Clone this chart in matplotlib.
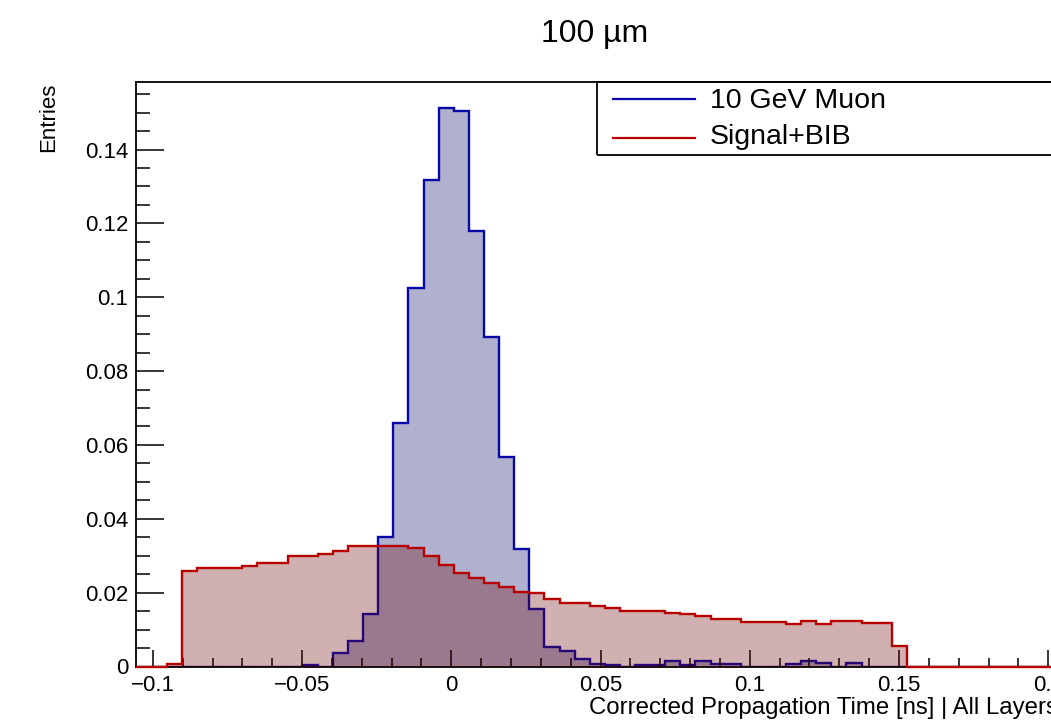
import numpy as np
import matplotlib
matplotlib.use('Agg')
import matplotlib.pyplot as plt
from matplotlib.ticker import MultipleLocator, FuncFormatter
from matplotlib.lines import Line2D
from matplotlib.patches import Rectangle

plt.rcParams['font.family'] = ['Liberation Sans', 'DejaVu Sans']

# binning
bin_start = -0.0953
bin_width = 0.00506
x_range = (-0.1058, 0.2026)
y_range = (0, 0.1583)

# bin contents, first bin starts at bin_start
muon = [0, 0, 0, 0, 0, 0, 0, 0, 0, 0.0005,
        0, 0.0037, 0.0070, 0.0142, 0.0352, 0.0659, 0.1025, 0.1318, 0.1512, 0.1504,
        0.1180, 0.0893, 0.0568, 0.0318, 0.0156, 0.0053, 0.0041, 0.0020, 0.0006, 0.0005,
        0, 0.0005, 0.0005, 0.0014, 0.0003, 0.0014, 0.0008, 0.0008, 0, 0,
        0, 0.0008, 0.0015, 0.0009, 0, 0.0009, 0, 0, 0]
bib = [0.0006, 0.0259, 0.0266, 0.0266, 0.0266, 0.0272, 0.0279, 0.0279, 0.0299, 0.0299,
       0.0306, 0.0313, 0.0326, 0.0326, 0.0326, 0.0326, 0.0320, 0.0299, 0.0276, 0.0253,
       0.0240, 0.0227, 0.0216, 0.0202, 0.0198, 0.0183, 0.0171, 0.0171, 0.0163, 0.0158,
       0.0150, 0.0150, 0.0150, 0.0145, 0.0143, 0.0137, 0.0129, 0.0129, 0.0121, 0.0121,
       0.0121, 0.0115, 0.0122, 0.0116, 0.0122, 0.0122, 0.0117, 0.0117, 0.0056]

labels = ['10 GeV Muon', 'Signal+BIB']
title = '100 \u00b5m'
xlabel = 'Corrected Propagation Time [ns] | All Layers'
ylabel = 'Entries'

blue_line = '#0808a8'
blue_fill = (0, 0, 0.4, 0.31)
red_line = '#b80000'
red_fill = (0.41, 0, 0, 0.31)

W, H = 1051, 721


def full_hist(vals):
    # pad with empty bins out to the axis range, like ROOT draws it
    edges = bin_start + bin_width * np.arange(len(vals) + 1)
    e = np.concatenate([[x_range[0]], edges, [x_range[1]]])
    v = np.concatenate([[0], vals, [0]])
    return v, e


def px(x, y):
    return x / W, 1 - y / H


def fmt(v, pos):
    s = f'{round(v, 4):g}'
    if s == '-0':
        s = '0'
    return s.replace('-', '\u2212')


fig = plt.figure(figsize=(W / 100, H / 100), dpi=100)
ax = fig.add_axes([135.5 / W, 1 - 666.5 / H, (1056 - 135.5) / W, (666.5 - 82) / H])

v, e = full_hist(muon)
ax.stairs(v, e, fill=True, color=blue_fill, zorder=1)
ax.stairs(v, e, color=blue_line, lw=1.7, zorder=1.2)

v, e = full_hist(bib)
ax.stairs(v, e, fill=True, color=red_fill, zorder=3)
ax.stairs(v, e, color=red_line, lw=1.7, zorder=3.2, clip_on=False)

ax.set_xlim(*x_range)
ax.set_ylim(*y_range)

for s in ax.spines.values():
    s.set_linewidth(1.3)

ax.xaxis.set_major_locator(MultipleLocator(0.05))
ax.xaxis.set_minor_locator(MultipleLocator(0.01))
ax.yaxis.set_major_locator(MultipleLocator(0.02))
ax.yaxis.set_minor_locator(MultipleLocator(0.005))
ax.xaxis.set_major_formatter(FuncFormatter(fmt))
ax.yaxis.set_major_formatter(FuncFormatter(fmt))

ax.tick_params(which='both', direction='in', top=False, right=False, width=1.1)
ax.tick_params(axis='x', which='major', length=12.6, labelsize=16, pad=6)
ax.tick_params(axis='x', which='minor', length=6.3)
ax.tick_params(axis='y', which='major', length=20, labelsize=16, pad=5)
ax.tick_params(axis='y', which='minor', length=10)

# titles
fig.text(*px(595, 41.7), title, ha='center', va='baseline', fontsize=23)
fig.text(*px(1058, 714), xlabel, ha='right', va='baseline', fontsize=17.3)
fig.text(*px(49, 83), ylabel, rotation=90, ha='center', va='top', fontsize=16)

# legend box, runs off the right edge like the original
x0, y0 = px(597, 155)
x1, y1 = px(1120, 82)
fig.add_artist(Rectangle((x0, y0), x1 - x0, y1 - y0, transform=fig.transFigure,
                         fill=False, ec='black', lw=1.3, clip_on=False))
for lab, col, ly, base in [(labels[0], blue_line, 99.3, 108.3),
                           (labels[1], red_line, 137.7, 144)]:
    fig.add_artist(Line2D([613 / W, 695 / W], [1 - ly / H] * 2,
                          transform=fig.transFigure, color=col, lw=1.6))
    fig.text(*px(710, base), lab, ha='left', va='baseline', fontsize=20.5)

fig.savefig('out.png', dpi=100)
